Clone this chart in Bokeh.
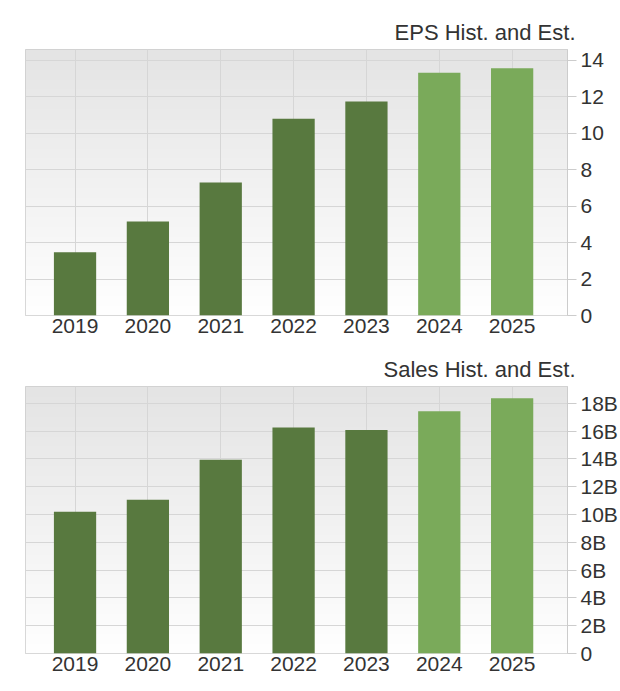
import numpy as np
from bokeh.plotting import figure
from bokeh.layouts import column
from bokeh.models import ColumnDataSource, FixedTicker, Range1d, CategoricalColorMapper
from bokeh.embed import file_html
from bokeh.resources import INLINE

# ---- data ----
years = ["2019", "2020", "2021", "2022", "2023", "2024", "2025"]
kind = ["Hist", "Hist", "Hist", "Hist", "Hist", "Est", "Est"]
eps = [3.47, 5.16, 7.3, 10.8, 11.75, 13.33, 13.57]
sales_b = [10.2, 11.06, 13.94, 16.25, 16.08, 17.42, 18.36]
eps_ticks = [0, 2, 4, 6, 8, 10, 12, 14]
eps_tick_labels = ["0", "2", "4", "6", "8", "10", "12", "14"]
sales_ticks = [0, 2, 4, 6, 8, 10, 12, 14, 16, 18]
sales_tick_labels = ["0", "2B", "4B", "6B", "8B", "10B", "12B", "14B", "16B", "18B"]

FONT = "Liberation Sans"
TEXT = "#333333"
GRID = "#d6d6d6"
EDGE = "#cccccc"


def gradient(n=256, top=228, bottom=255):
    t = np.linspace(0, 1, n)  # 0 = bottom row, 1 = top row
    g = (bottom + (top - bottom) * t).astype(np.uint8)
    img = np.empty((n, 1), dtype=np.uint32)
    view = img.view(dtype=np.uint8).reshape((n, 1, 4))
    view[:, 0, 0] = g
    view[:, 0, 1] = g
    view[:, 0, 2] = g
    view[:, 0, 3] = 255
    return img


def make(title, values, ticks, labels, ymax, fh, top_border):
    idx = list(range(len(years)))
    xr = Range1d(-0.68, 6.76)
    p = figure(frame_width=542, frame_height=fh, x_range=xr, y_range=Range1d(0, ymax),
               output_backend="svg", toolbar_location=None, y_axis_location="right",
               min_border_left=25, min_border_right=51, min_border_top=top_border,
               min_border_bottom=30, title=title)
    p.background_fill_color = "white"
    p.border_fill_color = "white"
    p.outline_line_color = EDGE

    p.image_rgba(image=[gradient()], x=xr.start, y=0, dw=xr.end - xr.start, dh=ymax,
                 level="image")

    src = ColumnDataSource(dict(x=idx, v=values, kind=kind))
    mapper = CategoricalColorMapper(factors=["Hist", "Est"], palette=["#58793f", "#7aaa5a"])
    p.vbar(x="x", top="v", width=0.58, source=src,
           fill_color={"field": "kind", "transform": mapper}, line_color=None)

    p.xgrid.ticker = FixedTicker(ticks=idx)
    p.ygrid.ticker = FixedTicker(ticks=ticks)
    p.grid.grid_line_color = GRID

    xa = p.xaxis[0]
    xa.ticker = FixedTicker(ticks=idx)
    xa.major_label_overrides = {i: y for i, y in zip(idx, years)}
    xa.axis_line_color = None
    xa.major_tick_line_color = None
    xa.minor_tick_line_color = None
    xa.major_tick_out = 0
    xa.major_tick_in = 0
    xa.major_label_standoff = 3
    xa.major_label_text_font = FONT
    xa.major_label_text_font_size = "21px"
    xa.major_label_text_color = TEXT

    ya = p.yaxis[0]
    ya.ticker = FixedTicker(ticks=ticks)
    ya.major_label_overrides = {t: l for t, l in zip(ticks, labels)}
    ya.axis_line_color = EDGE
    ya.major_tick_line_color = EDGE
    ya.major_tick_out = 9
    ya.major_tick_in = 0
    ya.minor_tick_line_color = None
    ya.major_label_standoff = 4
    ya.major_label_text_font = FONT
    ya.major_label_text_font_size = "21px"
    ya.major_label_text_color = TEXT

    p.title.align = "right"
    p.title.offset = -8
    p.title.text_font = FONT
    p.title.text_font_size = "22px"
    p.title.text_font_style = "normal"
    p.title.text_color = TEXT
    return p


p1 = make("EPS Hist. and Est.", eps, eps_ticks, eps_tick_labels, 14.6, 266, 49)
p2 = make("Sales Hist. and Est.", sales_b, sales_ticks, sales_tick_labels, 19.2, 267, 41)
layout = column(p1, p2, spacing=0)

open("out.html", "w").write(file_html(layout, INLINE))
